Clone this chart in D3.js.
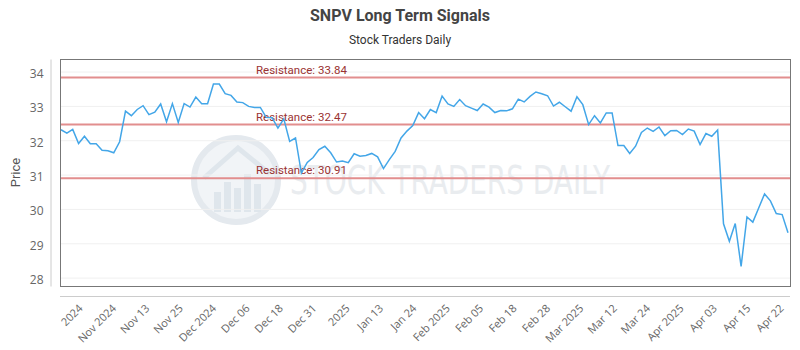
<!DOCTYPE html>
<html>
<head>
<meta charset="utf-8">
<script src="https://cdn.jsdelivr.net/npm/d3@7"></script>
<style>
  body { margin: 0; background: #fff; }
  svg { display: block; font-family: Roboto, "Open Sans", sans-serif; }
</style>
</head>
<body>
<div id="chart"></div>
<script>
const width = 800
const height = 350
const plot = { left: 60, right: 790, top: 59, bottom: 286 }

// daily closes
const prices = [
  32.32, 32.22, 32.33, 31.92, 32.13, 31.91, 31.91, 31.72, 31.71, 31.65,
  31.97, 32.86, 32.73, 32.91, 33.02, 32.76, 32.83, 33.07, 32.55, 33.08,
  32.53, 33.08, 32.98, 33.27, 33.08, 33.08, 33.65, 33.65, 33.37, 33.32,
  33.13, 33.11, 33.00, 32.97, 32.97, 32.68, 32.67, 32.37, 32.64, 31.98,
  32.08, 31.06, 31.37, 31.51, 31.74, 31.84, 31.65, 31.38, 31.41, 31.36,
  31.62, 31.55, 31.57, 31.63, 31.53, 31.19, 31.45, 31.69, 32.08, 32.28,
  32.44, 32.82, 32.64, 32.91, 32.82, 33.30, 33.07, 33.00, 33.20, 33.02,
  32.95, 32.88, 33.07, 32.98, 32.82, 32.88, 32.87, 32.93, 33.21, 33.13,
  33.29, 33.42, 33.37, 33.31, 33.01, 33.12, 32.99, 32.86, 33.28, 33.05,
  32.47, 32.73, 32.52, 32.81, 32.81, 31.86, 31.86, 31.63, 31.84, 32.24,
  32.37, 32.27, 32.40, 32.15, 32.29, 32.30, 32.18, 32.34, 32.28, 31.89,
  32.21, 32.13, 32.31, 29.58, 29.07, 29.59, 28.34, 29.78, 29.63, 30.04,
  30.45, 30.25, 29.88, 29.85, 29.32
]

const tickLabels = [
  "2024", "Nov 2024", "Nov 13", "Nov 25", "Dec 2024", "Dec 06", "Dec 18",
  "Dec 31", "2025", "Jan 13", "Jan 24", "Feb 2025", "Feb 05", "Feb 18",
  "Feb 28", "Mar 2025", "Mar 12", "Mar 24", "Apr 2025", "Apr 03", "Apr 15",
  "Apr 22"
]

const resistance = [33.84, 32.47, 30.91]
const priceTicks = [28, 29, 30, 31, 32, 33, 34]

const svg = d3.select("#chart")
  .append("svg")
  .attr("width", width)
  .attr("height", height)

// Scales
const x = d3.scaleLinear()
  .domain([0, prices.length - 1])
  .range([61, 788])

const y = d3.scaleLinear()
  .domain([27.77, 34.38])
  .range([plot.bottom, plot.top])

const xLabel = d3.scalePoint()
  .domain(tickLabels)
  .range([83, 784])

// Titles
svg.append("text")
  .attr("x", width / 2)
  .attr("y", 21)
  .attr("text-anchor", "middle")
  .attr("font-size", 16)
  .attr("font-weight", 700)
  .attr("fill", "#444")
  .text("SNPV Long Term Signals")

svg.append("text")
  .attr("x", width / 2)
  .attr("y", 44)
  .attr("text-anchor", "middle")
  .attr("font-size", 12)
  .attr("fill", "#333")
  .text("Stock Traders Daily")

// Watermark
const mark = svg.append("g").attr("class", "watermark")
mark.append("circle")
  .attr("cx", 236).attr("cy", 180).attr("r", 42)
  .attr("fill", "#f1f4f7")
  .attr("stroke", "#e4e9ee")
  .attr("stroke-width", 6)
const bars = [[214, 192, 24], [224, 182, 34], [234, 188, 28], [244, 174, 42], [254, 184, 32]]
bars.forEach(b => {
  mark.append("rect")
    .attr("x", b[0]).attr("y", b[1]).attr("width", 7).attr("height", b[2] - 4)
    .attr("fill", "#dfe6ec")
})
mark.append("path")
  .attr("d", "M204,178 L238,148 L270,174")
  .attr("fill", "none")
  .attr("stroke", "#dfe6ec")
  .attr("stroke-width", 5)
mark.append("text")
  .attr("x", 290)
  .attr("y", 194)
  .attr("font-family", "'DejaVu Sans', sans-serif")
  .attr("font-size", 39)
  .attr("textLength", 320)
  .attr("lengthAdjust", "spacingAndGlyphs")
  .attr("fill", "#e9ecef")
  .text("STOCK TRADERS DAILY")

// Grid lines
svg.append("g")
  .selectAll("line")
  .data(priceTicks)
  .enter()
  .append("line")
  .attr("x1", plot.left)
  .attr("x2", plot.right)
  .attr("y1", d => y(d))
  .attr("y2", d => y(d))
  .attr("stroke", "#f0f0f0")

// Resistance lines
const res = svg.append("g").attr("class", "resistance")
res.selectAll("line")
  .data(resistance)
  .enter()
  .append("line")
  .attr("x1", plot.left)
  .attr("x2", plot.right)
  .attr("y1", d => y(d))
  .attr("y2", d => y(d))
  .attr("stroke", "#e28e8e")
  .attr("stroke-width", 2)

res.selectAll("text")
  .data(resistance)
  .enter()
  .append("text")
  .attr("x", 256)
  .attr("y", d => y(d) - 4)
  .attr("font-size", 11.5)
  .attr("fill", "#9a3232")
  .text(d => "Resistance: " + d.toFixed(2))

// Price line
const valueLine = d3.line()
  .x((d, i) => x(i))
  .y(d => y(d))

svg.append("path")
  .datum(prices)
  .attr("fill", "none")
  .attr("stroke", "#43a6e8")
  .attr("stroke-width", 1.5)
  .attr("d", valueLine)

// Plot border
svg.append("rect")
  .attr("x", plot.left + 0.5)
  .attr("y", plot.top + 0.5)
  .attr("width", plot.right - plot.left)
  .attr("height", plot.bottom - plot.top)
  .attr("fill", "none")
  .attr("stroke", "#777")

// Y axis
const yAxis = svg.append("g")
  .attr("transform", "translate(50.5,0)")
  .call(d3.axisLeft(y).tickValues(priceTicks).tickFormat(d3.format("d"))
    .tickSize(0).tickSizeOuter(0).tickPadding(7))
yAxis.select(".domain").attr("stroke", "#ccc")
yAxis.selectAll("text")
  .attr("font-family", "'Open Sans', sans-serif")
  .attr("font-size", 12)
  .attr("fill", "#666")
  .attr("dy", "0.45em")

svg.append("text")
  .attr("transform", "translate(20," + ((plot.top + plot.bottom) / 2) + ") rotate(-90)")
  .attr("text-anchor", "middle")
  .attr("font-size", 13)
  .attr("fill", "#555")
  .text("Price")

// X axis
svg.append("line")
  .attr("x1", plot.left)
  .attr("x2", plot.right)
  .attr("y1", 296.5)
  .attr("y2", 296.5)
  .attr("stroke", "#ccc")

const xAxis = svg.append("g")
  .attr("transform", "translate(0,309)")
  .call(d3.axisBottom(xLabel).tickSize(0).tickSizeOuter(0))
xAxis.select(".domain").remove()
xAxis.selectAll("text")
  .attr("font-family", "'Open Sans', sans-serif")
  .attr("font-size", 11)
  .attr("fill", "#666")
  .attr("x", 0)
  .attr("y", 0)
  .attr("dy", 0)
  .attr("text-anchor", "end")
  .attr("transform", "rotate(-45)")
</script>
</body>
</html>
